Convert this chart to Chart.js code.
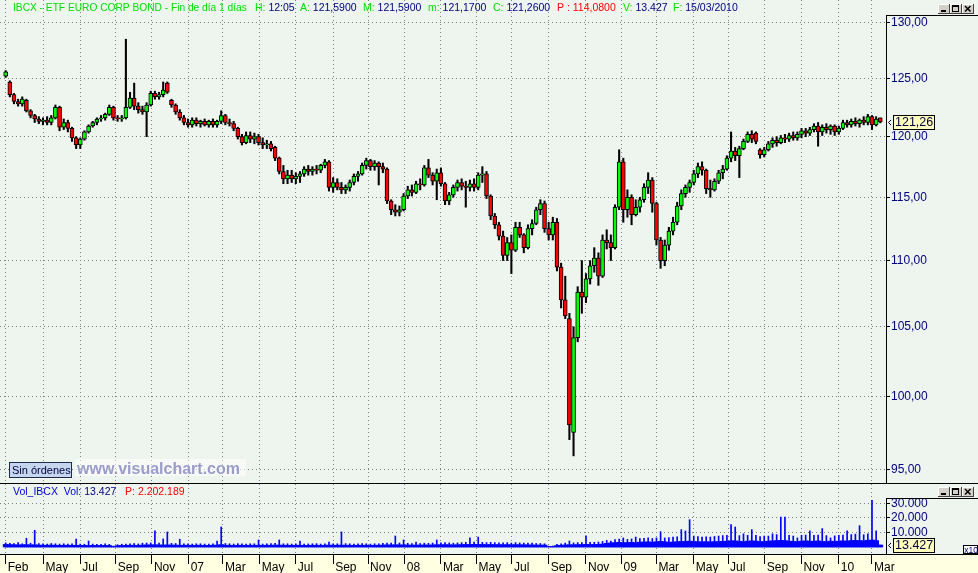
<!DOCTYPE html>
<html>
<head>
<meta charset="utf-8">
<title>IBCX - ETF EURO CORP BOND</title>
<script src="https://cdn.jsdelivr.net/npm/chart.js@4.4.1/dist/chart.umd.min.js"></script>
<style>
  html, body { margin: 0; padding: 0; background: #EEF4EE; overflow: hidden; }
  #wrap { position: relative; width: 978px; height: 573px; }
  #priceChart { position: absolute; left: 0; top: 0; }
  #volChart { position: absolute; left: 0; top: 483px; }
</style>
</head>
<body>
<div id="wrap">
  <canvas id="priceChart" width="978" height="483"></canvas>
  <canvas id="volChart" width="978" height="90"></canvas>
</div>
<script>
// weekly candles, first week starts 2006-02-27
const firstWeek = '2006-02-27';

const opens = [
  125.2,124.7,123.6,123.0,122.8,123.1,122.2,121.8,121.5,121.3,
  121.4,121.2,121.6,122.5,120.8,121.2,120.7,119.9,119.3,119.8,
  120.4,120.9,121.2,121.5,121.6,121.9,122.5,121.6,121.5,121.6,
  122.5,123.3,122.6,122.3,122.1,122.7,123.7,123.4,123.6,124.6,
  123.1,122.7,122.1,121.6,121.2,121.0,121.4,121.1,121.3,121.0,
  121.3,121.0,121.3,121.8,121.2,121.1,120.7,120.0,119.5,120.1,
  119.8,120.0,119.5,119.3,119.4,119.1,118.2,117.1,116.5,116.8,
  116.5,116.7,116.9,117.3,117.1,117.3,117.2,117.6,117.9,115.8,
  116.2,115.8,115.6,115.8,116.2,116.7,116.9,117.6,118.0,117.5,
  117.8,117.5,117.3,114.7,114.0,113.8,114.0,115.1,115.6,115.4,
  116.1,116.0,117.4,116.8,116.3,117.0,116.1,114.7,115.2,115.8,
  116.2,115.9,115.8,116.1,115.8,116.8,116.9,115.1,113.5,112.8,
  111.9,110.4,111.4,110.8,112.6,112.0,111.0,112.5,112.9,114.0,
  114.5,112.5,112.0,113.0,109.5,107.0,105.6,97.5,104.2,107.6,
  107.2,108.6,109.6,110.2,108.8,111.6,111.4,111.0,114.2,117.9,
  114.0,115.0,113.6,114.2,114.8,115.8,116.4,114.5,111.6,110.0,
  111.2,112.3,113.0,114.3,115.3,115.8,116.2,116.9,117.5,117.2,
  115.7,115.6,116.3,117.0,117.3,118.2,118.8,118.4,119.0,119.6,
  120.2,120.3,118.9,118.5,118.9,119.4,119.7,119.5,119.9,119.8,
  120.1,119.9,120.2,120.5,120.3,120.6,120.9,120.4,120.8,120.6,
  120.9,120.4,120.7,121.2,121.0,121.3,121.1,121.4,121.2,121.7,
  121.0,121.59
];
const highs = [
  125.7,124.8,123.7,123.2,123.4,123.2,122.3,121.9,121.7,121.6,
  121.7,121.8,122.7,122.6,121.5,121.4,120.8,120.0,119.9,120.5,
  121.0,121.3,121.6,121.8,122.0,122.7,122.6,121.8,121.8,128.5,
  123.8,124.6,122.9,122.6,122.9,123.9,123.9,123.8,124.7,124.7,
  123.2,122.8,122.3,121.8,121.5,121.6,121.6,121.4,121.5,121.4,
  121.5,121.4,122.2,121.9,121.5,121.3,120.8,120.2,120.4,120.4,
  120.3,120.2,119.9,119.7,119.6,119.2,118.3,117.6,117.2,117.2,
  117.0,117.1,117.5,117.6,117.5,117.6,117.7,118.1,118.0,116.6,
  116.5,116.2,116.0,116.4,116.9,117.1,117.8,118.2,118.1,118.0,
  117.9,117.8,117.4,114.8,114.4,114.3,115.3,115.9,116.0,116.3,
  116.5,117.6,118.1,117.0,117.3,117.4,116.2,115.4,116.0,116.4,
  116.5,116.3,116.4,116.5,117.0,117.5,117.1,115.2,113.7,113.0,
  112.3,111.8,112.0,113.0,113.0,112.1,112.8,113.2,114.2,114.8,
  114.7,113.0,113.4,113.3,109.8,108.8,106.0,105.0,108.0,110.0,
  109.0,110.0,111.0,110.6,112.0,112.4,112.0,114.4,118.9,118.2,
  115.6,115.2,114.8,115.0,116.1,117.0,116.6,114.6,111.8,111.6,
  112.6,113.4,114.6,115.6,116.0,116.4,117.2,117.8,117.9,117.3,
  116.4,116.5,117.2,117.6,118.4,120.4,119.1,119.2,119.8,120.4,
  120.5,120.4,119.0,119.1,119.6,119.9,120.0,120.1,120.2,120.3,
  120.4,120.4,120.7,120.7,120.8,121.1,121.2,121.0,121.1,121.0,
  121.0,120.9,121.4,121.4,121.5,121.6,121.5,121.7,121.9,121.8,
  121.7,121.59
];
const lows = [
  125.1,123.4,122.8,122.6,122.6,122.1,121.6,121.2,121.1,121.0,
  121.0,121.0,121.5,120.5,120.6,120.4,119.6,119.0,119.0,119.7,
  120.3,120.8,121.0,121.3,121.4,121.8,121.4,121.3,121.3,121.5,
  122.4,122.3,122.0,121.9,120.0,122.6,123.2,123.2,123.4,123.7,
  122.5,121.9,121.4,121.0,120.8,120.8,120.9,120.8,120.9,120.8,
  120.8,120.8,121.1,121.0,120.9,120.5,119.8,119.3,119.4,119.5,
  119.4,119.3,119.0,119.0,118.8,118.0,116.9,116.1,116.1,116.2,
  116.1,116.2,116.7,116.8,116.8,116.9,117.0,117.4,115.5,115.4,
  115.6,115.3,115.3,115.5,116.0,116.3,116.8,117.3,117.2,117.2,
  116.0,117.0,114.5,113.6,113.5,113.5,113.9,114.9,115.1,115.3,
  115.6,115.9,116.6,116.0,114.8,115.9,114.4,114.4,115.0,115.5,
  115.6,114.2,115.5,115.5,115.6,116.2,114.9,113.2,112.5,111.6,
  110.0,110.0,109.0,110.7,111.8,110.6,110.9,112.0,112.8,113.6,
  112.2,111.6,111.6,109.2,106.4,105.6,97.0,95.9,103.9,106.0,
  106.8,108.2,109.1,108.1,108.7,110.9,110.0,110.9,114.0,113.0,
  113.4,112.8,113.5,113.8,114.6,115.3,113.8,111.2,109.4,109.6,
  110.8,112.0,112.8,114.0,115.0,115.4,116.0,116.6,116.8,115.3,
  115.0,115.5,116.1,116.5,117.2,117.9,118.0,116.6,118.9,119.5,
  119.5,119.4,118.2,118.3,118.8,119.1,119.2,119.4,119.5,119.6,
  119.7,119.7,119.9,120.0,120.1,120.4,119.2,120.1,120.3,120.2,
  120.1,120.2,120.6,120.8,120.8,120.9,120.8,121.0,121.0,120.6,
  120.9,121.17
];
const closes = [
  125.6,123.6,123.0,122.8,123.2,122.2,121.8,121.5,121.3,121.4,
  121.2,121.6,122.5,120.8,121.2,120.7,119.9,119.3,119.8,120.4,
  120.9,121.2,121.5,121.6,121.9,122.5,121.6,121.5,121.6,122.5,
  123.3,122.6,122.3,122.1,122.7,123.7,123.4,123.6,124.0,123.8,
  122.7,122.1,121.6,121.2,121.0,121.4,121.1,121.3,121.0,121.3,
  121.0,121.3,121.8,121.2,121.1,120.7,120.0,119.5,120.1,119.8,
  120.0,119.5,119.3,119.4,119.0,118.2,117.1,116.5,116.8,116.5,
  116.7,116.9,117.3,117.1,117.3,117.2,117.6,117.9,115.8,116.2,
  115.8,115.6,115.8,116.2,116.7,116.9,117.6,118.0,117.5,117.8,
  117.5,117.3,114.7,114.0,113.8,114.0,115.1,115.6,115.4,116.1,
  116.0,117.4,116.8,116.3,117.0,116.1,114.7,115.2,115.8,116.2,
  115.9,115.8,116.1,115.8,116.8,116.9,115.1,113.5,112.8,111.9,
  110.4,111.4,110.8,112.6,112.0,111.0,112.5,112.9,114.0,114.5,
  112.5,112.0,113.0,109.5,107.0,105.8,98.0,104.2,107.6,107.2,
  108.6,109.6,110.2,108.8,111.6,111.4,111.0,114.2,117.9,114.0,
  115.0,113.6,114.2,114.8,115.8,116.4,114.5,111.6,110.0,111.2,
  112.3,113.0,114.3,115.3,115.8,116.2,116.9,117.5,117.2,115.7,
  115.6,116.3,117.0,117.3,118.2,118.8,118.4,119.0,119.6,120.2,
  119.8,119.6,118.5,118.9,119.4,119.7,119.5,119.9,119.8,120.1,
  119.9,120.2,120.5,120.3,120.6,120.9,120.4,120.8,120.6,120.9,
  120.4,120.7,121.2,121.0,121.3,121.1,121.4,121.2,121.7,121.0,
  121.5,121.26
];

// volume: typical daily level and largest day of each week
const volTypical = [
  18000,16000,15000,14000,15000,16000,14000,15000,13000,12000,
  12000,13000,12000,11000,12000,12000,11000,12000,11000,11000,
  10000,11000,10000,10000,11000,10000,4000,9000,10000,11000,
  12000,12000,11000,13000,14000,14000,15000,14000,13000,14000,
  13000,13000,12000,12000,12000,11000,12000,12000,11000,11000,
  12000,13000,16000,12000,12000,11000,12000,12000,11000,12000,
  12000,12000,11000,12000,12000,13000,13000,12000,12000,11000,
  12000,12000,11000,11000,12000,12000,11000,12000,13000,12000,
  12000,13000,12000,12000,11000,12000,12000,12000,11000,12000,
  12000,13000,14000,14000,15000,14000,14000,13000,13000,13000,
  13000,14000,13000,14000,15000,15000,16000,15000,14000,15000,
  16000,17000,17000,18000,18000,17000,16000,17000,16000,16000,
  15000,16000,15000,16000,15000,15000,14000,14000,13000,13000,
  13000,3000,4000,10000,12000,14000,15000,15000,16000,16000,
  18000,17000,17000,18000,20000,25000,28000,30000,32000,30000,
  30000,32000,30000,33000,34000,35000,33000,36000,38000,36000,
  32000,34000,36000,38000,38000,40000,37000,36000,35000,36000,
  35000,36000,38000,38000,40000,42000,42000,38000,37000,40000,
  42000,40000,36000,38000,40000,42000,44000,45000,44000,40000,
  38000,37000,40000,42000,40000,39000,42000,38000,37000,40000,
  38000,40000,42000,40000,44000,45000,44000,42000,46000,48000,
  44000,13427
];
const volPeak = [
  28000,25000,24000,30000,22000,60000,26000,114000,24000,22000,
  20000,24000,22000,20000,22000,20000,21000,55000,20000,19000,
  41000,20000,18000,19000,21000,18000,6000,16000,19000,20000,
  22000,24000,21000,26000,27000,28000,110000,26000,55000,103000,
  25000,24000,53000,22000,21000,20000,22000,22000,20000,20000,
  22000,41000,137000,24000,22000,20000,23000,22000,20000,22000,
  22000,48000,20000,22000,23000,25000,48000,22000,22000,20000,
  22000,41000,20000,21000,22000,23000,20000,22000,34000,22000,
  22000,103000,23000,22000,20000,22000,23000,22000,20000,22000,
  22000,25000,27000,26000,75000,27000,48000,25000,24000,34000,
  24000,26000,25000,27000,48000,28000,30000,28000,26000,28000,
  30000,32000,62000,34000,68000,32000,30000,32000,30000,29000,
  28000,30000,27000,30000,28000,27000,26000,26000,24000,24000,
  22000,6000,7000,18000,22000,27000,41000,28000,30000,30000,
  77000,32000,32000,34000,38000,45000,40000,50000,55000,62000,
  52000,55000,68000,58000,60000,62000,58000,62000,105000,62000,
  65000,68000,70000,119000,110000,187000,75000,72000,68000,70000,
  68000,72000,75000,78000,80000,153000,137000,78000,90000,80000,
  119000,80000,72000,75000,75000,90000,85000,205000,205000,80000,
  75000,62000,80000,82000,110000,80000,82000,126000,78000,62000,
  76000,80000,82000,110000,85000,88000,146000,84000,90000,320000,
  110000,13427
];

const tickDates = ['2006-02-27','2006-05-02','2006-07-03','2006-09-01','2006-11-01',
  '2007-01-02','2007-03-01','2007-05-02','2007-07-02','2007-09-03','2007-11-01',
  '2008-01-02','2008-03-03','2008-05-02','2008-07-01','2008-09-01','2008-11-03',
  '2009-01-02','2009-03-02','2009-05-04','2009-07-01','2009-09-01','2009-11-02',
  '2010-01-04','2010-03-01'];
const tickLabels = ['Feb','May','Jul','Sep','Nov','07','Mar','May','Jul','Sep','Nov',
  '08','Mar','May','Jul','Sep','Nov','09','Mar','May','Jul','Sep','Nov','10','Mar'];
const priceTicks = [95, 100, 105, 110, 115, 120, 125, 130];
const volTicks = [100000, 200000, 300000];

const BG = '#EEF4EE';
const GRID = '#808080';
const NAVY = '#000080';
const GREEN = '#00E000';
const FONT = "'Liberation Sans', Arial, sans-serif";
const X_MIN = -1.37, X_MAX = 212.38;

const startMs = Date.parse(firstWeek);
const weekOf = d => (Date.parse(d) - startMs) / 604800000;
const monthTickValues = tickDates.map(weekOf);
const weeks = closes.map((_, i) => i);
const last = weeks.length - 1;

function dotted(n) { return String(Math.round(n)).replace(/\B(?=(\d{3})+(?!\d))/g, '.'); }

// grid lines are dotted: in v4 the dash lives in border.dash
function monthAxis(showLabels) {
  return {
    type: 'linear', min: X_MIN, max: X_MAX, offset: false,
    afterBuildTicks: s => { s.ticks = monthTickValues.map(v => ({ value: v })); },
    afterFit: s => { s.paddingLeft = 0; s.paddingRight = 0; if (showLabels) s.height = 19; },
    grid: { color: GRID, offset: false, drawTicks: showLabels,
            tickLength: 10, tickColor: '#000', tickBorderDash: [], tickWidth: 1 },
    border: { display: false, dash: [1, 3] },
    ticks: { display: showLabels, autoSkip: false, maxRotation: 0, minRotation: 0,
             align: 'start', labelOffset: 2, padding: -4, color: '#000',
             font: { family: FONT, size: 12 }, callback: (v, i) => tickLabels[i] }
  };
}

function rightAxis(extra) {
  return Object.assign({
    position: 'right',
    afterFit: s => { s.width = 92; s.paddingTop = 0; s.paddingBottom = 0; },
    grid: { color: GRID, drawTicks: true, tickLength: 4,
            tickColor: '#000', tickBorderDash: [], tickWidth: 1 },
    border: { display: false, dash: [1, 3] },
    ticks: { color: NAVY, padding: 1, font: { family: FONT, size: 12 } }
  }, extra);
}

function hLine(ctx, x1, x2, y) { ctx.beginPath(); ctx.moveTo(x1, y + 0.5); ctx.lineTo(x2, y + 0.5); ctx.stroke(); }
function vLine(ctx, x, y1, y2) { ctx.beginPath(); ctx.moveTo(x + 0.5, y1); ctx.lineTo(x + 0.5, y2); ctx.stroke(); }

function drawButtons(ctx, top) {
  [938, 950, 962].forEach((x, k) => {
    ctx.fillStyle = '#D4D0C8';
    ctx.fillRect(x, top, 12, 10);
    ctx.strokeStyle = '#FFFFFF';
    hLine(ctx, x, x + 11, top); vLine(ctx, x, top, top + 9);
    ctx.strokeStyle = '#404040';
    hLine(ctx, x, x + 12, top + 9); vLine(ctx, x + 11, top, top + 10);
    ctx.fillStyle = '#000';
    ctx.strokeStyle = '#000';
    if (k === 0) ctx.fillRect(x + 3, top + 6, 5, 2);
    if (k === 1) { ctx.strokeRect(x + 2.5, top + 1.5, 6, 6); ctx.fillRect(x + 2, top + 1, 7, 2); }
    if (k === 2) {
      ctx.lineWidth = 1.5;
      ctx.beginPath();
      ctx.moveTo(x + 3, top + 2); ctx.lineTo(x + 8.5, top + 7.5);
      ctx.moveTo(x + 8.5, top + 2); ctx.lineTo(x + 3, top + 7.5);
      ctx.stroke();
      ctx.lineWidth = 1;
    }
  });
}

function drawTag(ctx, text, yc) {
  const y = Math.round(yc);
  ctx.fillStyle = '#FFFFC0';
  ctx.fillRect(893, y - 7, 42, 15);
  ctx.strokeStyle = '#000';
  ctx.lineWidth = 1;
  ctx.strokeRect(893.5, y - 6.5, 41, 14);
  ctx.fillStyle = '#000040';
  ctx.font = '12.5px ' + FONT;
  ctx.textBaseline = 'middle';
  ctx.textAlign = 'left';
  ctx.fillText(text, 895, y + 1);
  ctx.beginPath();
  ctx.moveTo(891, y - 2); ctx.lineTo(888.5, y + 0.5); ctx.lineTo(891, y + 3);
  ctx.stroke();
}

function drawRuns(ctx, runs, baseline, size) {
  ctx.font = size + 'px ' + FONT;
  ctx.textBaseline = 'alphabetic';
  ctx.textAlign = 'left';
  runs.forEach(r => {
    let x = r.x;
    r.parts.forEach(([txt, col]) => {
      ctx.fillStyle = col;
      ctx.fillText(txt, x, baseline);
      x += ctx.measureText(txt).width;
    });
  });
}

const priceDecor = {
  id: 'priceDecor',
  beforeDraw(chart) {
    const ctx = chart.ctx;
    ctx.save();
    ctx.fillStyle = BG;
    ctx.fillRect(0, 0, chart.width, chart.height);
    ctx.restore();
  },
  afterDraw(chart) {
    const ctx = chart.ctx;
    ctx.save();
    ctx.strokeStyle = '#000';
    ctx.lineWidth = 1;
    vLine(ctx, 886, 15, 483);
    hLine(ctx, 886, 978, 15);
    drawButtons(ctx, 4);

    drawRuns(ctx, [
      { x: 13, parts: [['IBCX - ETF EURO CORP BOND - Fin de día 1 días', GREEN]] }
    ], 11, 10.2);
    drawRuns(ctx, [
      { x: 255, parts: [['H: ', GREEN], ['12:05', NAVY]] },
      { x: 300, parts: [['A: ', GREEN], ['121,5900', NAVY]] },
      { x: 363, parts: [['M: ', GREEN], ['121,5900', NAVY]] },
      { x: 428, parts: [['m: ', GREEN], ['121,1700', NAVY]] },
      { x: 493, parts: [['C: ', GREEN], ['121,2600', NAVY]] },
      { x: 557, parts: [['P : 114,0800', '#FF0000']] },
      { x: 623, parts: [['V: ', GREEN], ['13.427', NAVY]] },
      { x: 673, parts: [['F: ', GREEN], ['15/03/2010', NAVY]] }
    ], 11, 10.5);

    // "Sin órdenes" box and site watermark
    ctx.fillStyle = '#C6D6EE';
    ctx.fillRect(9, 462, 63, 16);
    ctx.strokeStyle = '#1C2C4C';
    ctx.strokeRect(9.5, 462.5, 62, 15);
    ctx.fillStyle = '#000040';
    ctx.font = '11px ' + FONT;
    ctx.textBaseline = 'alphabetic';
    ctx.fillText('Sin órdenes', 12, 474);
    ctx.fillStyle = 'rgba(255,255,255,0.55)';
    ctx.fillRect(75, 459, 171, 17);
    ctx.fillStyle = '#9C9CCA';
    ctx.font = 'bold 16px ' + FONT;
    ctx.fillText('www.visualchart.com', 77, 474);

    const yPx = chart.scales.y.getPixelForValue(closes[last]);
    drawTag(ctx, closes[last].toFixed(2).replace('.', ','), yPx);
    ctx.restore();
  }
};

const volDecor = {
  id: 'volDecor',
  beforeDraw(chart) {
    const ctx = chart.ctx;
    const bottom = chart.chartArea.bottom;
    ctx.save();
    ctx.fillStyle = BG;
    ctx.fillRect(0, 0, chart.width, chart.height);
    ctx.fillStyle = '#FFFFE1';
    ctx.fillRect(0, bottom, chart.width, chart.height - bottom);
    ctx.restore();
  },
  afterDraw(chart) {
    const ctx = chart.ctx;
    const bottom = Math.round(chart.chartArea.bottom);
    ctx.save();
    ctx.strokeStyle = '#000';
    ctx.lineWidth = 1;
    hLine(ctx, 0, 978, 0);
    hLine(ctx, 0, 978, bottom);
    vLine(ctx, 886, 15, bottom);
    hLine(ctx, 886, 978, 15);
    drawButtons(ctx, 4);

    drawRuns(ctx, [
      { x: 13, parts: [['Vol_IBCX  Vol: ', '#0000E0'], ['13.427', NAVY], ['   P: 2.202.189', '#FF0000']] }
    ], 11.5, 10.5);

    const yPx = chart.scales.y.getPixelForValue(volPeak[last]);
    drawTag(ctx, dotted(volPeak[last]), yPx);

    ctx.fillStyle = '#FFFFFF';
    ctx.fillRect(963, 62, 15, 9);
    ctx.strokeStyle = '#000';
    ctx.strokeRect(963.5, 62.5, 14, 8);
    ctx.fillStyle = NAVY;
    ctx.font = '8.5px ' + FONT;
    ctx.textBaseline = 'alphabetic';
    ctx.fillText('x10', 964.3, 69.5);
    ctx.restore();
  }
};

const common = {
  responsive: false,
  animation: false,
  devicePixelRatio: 1,
  events: [],
  plugins: { legend: { display: false }, tooltip: { enabled: false } }
};

new Chart(document.getElementById('priceChart').getContext('2d'), {
  type: 'bar',
  data: {
    datasets: [
      {
        label: 'Rango',
        data: weeks.map(i => ({ x: i, y: [lows[i], highs[i]] })),
        backgroundColor: '#000000',
        barThickness: 1.4,
        grouped: false,
        order: 2
      },
      {
        label: 'Cuerpo',
        data: weeks.map(i => ({ x: i, y: [opens[i], closes[i]] })),
        backgroundColor: weeks.map(i => closes[i] >= opens[i] ? '#00FF00' : '#FF0000'),
        borderColor: '#000000',
        borderWidth: 1,
        borderSkipped: false,
        barThickness: 4,
        grouped: false,
        order: 1
      }
    ]
  },
  options: Object.assign({}, common, {
    layout: { padding: 0 },
    scales: {
      x: monthAxis(false),
      y: rightAxis({
        type: 'logarithmic', min: 94.09, max: 132.09,
        afterBuildTicks: s => { s.ticks = priceTicks.map(v => ({ value: v })); },
        ticks: { color: NAVY, padding: 1, font: { family: FONT, size: 12 },
                 callback: v => Number(v).toFixed(2).replace('.', ',') }
      })
    }
  }),
  plugins: [priceDecor]
});

new Chart(document.getElementById('volChart').getContext('2d'), {
  type: 'bar',
  data: {
    datasets: [
      {
        label: 'Vol',
        data: weeks.map(i => ({ x: i, y: volTypical[i] })),
        backgroundColor: '#0000FF',
        barThickness: 5,
        grouped: false,
        order: 2
      },
      {
        label: 'Vol máx',
        data: weeks.map(i => ({ x: i, y: volPeak[i] })),
        backgroundColor: '#0000FF',
        barThickness: 1,
        grouped: false,
        order: 1
      }
    ]
  },
  options: Object.assign({}, common, {
    layout: { padding: { top: 1, left: 0, right: 0, bottom: 0 } },
    scales: {
      x: monthAxis(true),
      y: rightAxis({
        type: 'linear', min: -48000, max: 431500,
        afterBuildTicks: s => { s.ticks = volTicks.map(v => ({ value: v })); },
        ticks: { color: NAVY, padding: 1, font: { family: FONT, size: 12 },
                 callback: v => dotted(v / 10) }
      })
    }
  }),
  plugins: [volDecor]
});
</script>
</body>
</html>
